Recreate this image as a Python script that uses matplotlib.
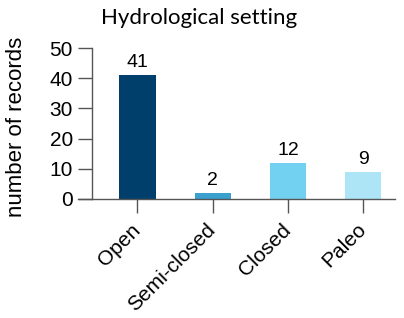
import matplotlib
matplotlib.use('Agg')
import matplotlib.pyplot as plt

# data
CATEGORIES = ['Open', 'Semi-closed', 'Closed', 'Paleo']
COUNTS = [41, 2, 12, 9]
COLORS = ['#003e6c', '#3aa1cf', '#72d1f1', '#ade5f6']

plt.rcParams['font.family'] = ['Liberation Sans', 'DejaVu Sans']

fig = plt.figure(figsize=(4.04, 3.18), dpi=100)
ax = fig.add_axes([78 / 404, 119 / 318, 317 / 404, 151 / 318])

x = range(len(CATEGORIES))
bars = ax.bar(x, COUNTS, width=0.48, color=COLORS)
ax.bar_label(bars, labels=[str(v) for v in COUNTS], padding=3, fontsize=14)

ax.set_xlim(-0.79, 3.42)
ax.set_ylim(0, 50)
ax.set_yticks([0, 10, 20, 30, 40, 50])
ax.set_xticks(list(x))
ax.set_xticklabels(CATEGORIES, rotation=45, ha='right', va='center',
                   rotation_mode='anchor', fontsize=15)

for s in ['top', 'right']:
  ax.spines[s].set_visible(False)
ax.spines['left'].set_position(('data', -0.61))
for s in ['left', 'bottom']:
  ax.spines[s].set_color('#555555')
  ax.spines[s].set_linewidth(1.0)

ax.tick_params(axis='both', direction='out', length=10, width=1.0,
               color='#555555', labelsize=15)
ax.tick_params(axis='x', pad=10)
ax.set_ylabel('number of records', fontsize=16)
ax.yaxis.set_label_coords(-0.16, 0.48)

fig.text(199 / 404, 1 - 18 / 318, 'Hydrological setting', ha='center',
         va='center', fontsize=16, family='Lato')

fig.savefig('out.png', dpi=100)
